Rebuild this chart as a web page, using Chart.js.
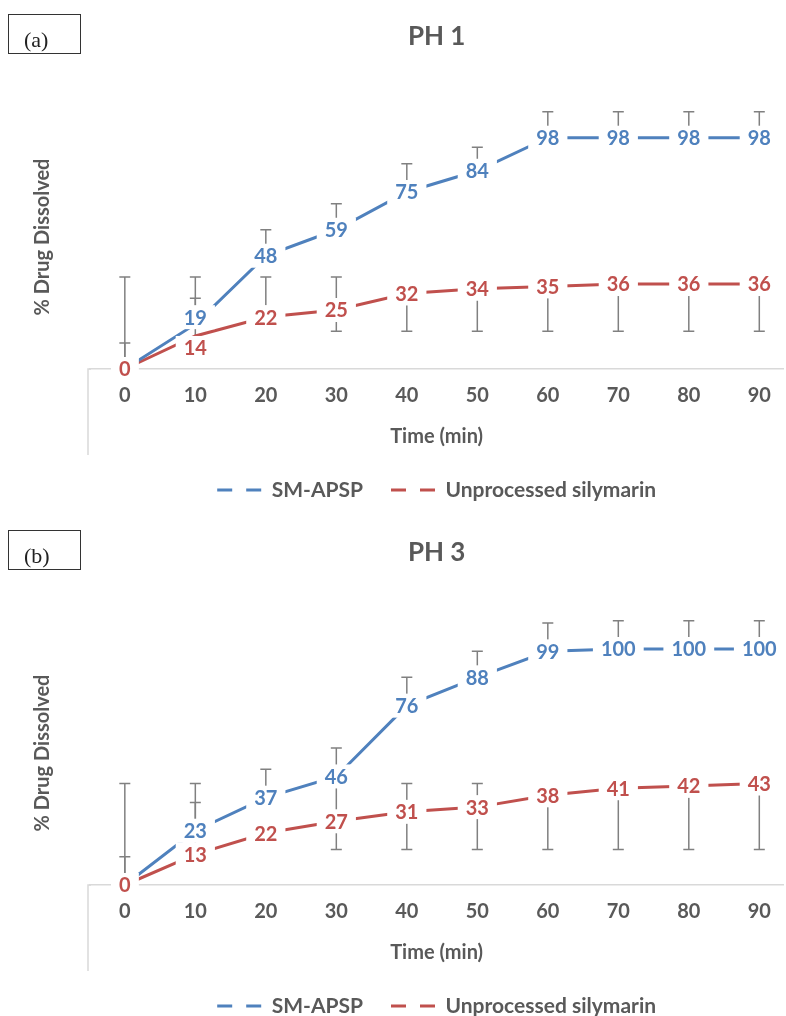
<!DOCTYPE html>
<html>
<head>
<meta charset="utf-8">
<script src="https://cdn.jsdelivr.net/npm/chart.js@4.4.1/dist/chart.umd.min.js"></script>
<style>
  html, body { margin: 0; padding: 0; background: #fff; }
  body { width: 786px; height: 1016px; overflow: hidden; position: relative; }
  .panel { position: absolute; left: 0; width: 786px; height: 540px; }
  .panel canvas { position: absolute; left: 0; top: 0; }
  .tag {
    position: absolute; left: 8px; top: 14px; width: 73px; height: 40px;
    box-sizing: border-box; border: 1.5px solid #333;
  }
  .tag span {
    position: absolute; left: 15px; top: 13px;
    font-family: "Liberation Serif", serif; font-size: 22px; line-height: 24px; color: #222;
  }
</style>
</head>
<body>
<div class="panel" style="top:0"><canvas id="ph1" width="786" height="540"></canvas><div class="tag"><span>(a)</span></div></div>
<div class="panel" style="top:516px"><canvas id="ph3" width="786" height="540"></canvas><div class="tag"><span>(b)</span></div></div>

<script>
// data
const timeLabels = [0, 10, 20, 30, 40, 50, 60, 70, 80, 90];
const seriesNames = ["SM-APSP", "Unprocessed silymarin"];

const ph1Apsp = [0, 19, 48, 59, 75, 84, 98, 98, 98, 98];
const ph1Raw = [0, 14, 22, 25, 32, 34, 35, 36, 36, 36];
const ph1ApspErrPlus = [11, 11, 11, 11, 12, 10, 11, 11, 11, 11];
const ph1RawErrPlus = [39, 25, 17, 14, 0, 0, 0, 0, 0, 0];
const ph1RawErrMinus = [0, 0, 0, 9, 16, 18, 19, 20, 20, 20];

const ph3Apsp = [0, 23, 37, 46, 76, 88, 99, 100, 100, 100];
const ph3Raw = [0, 13, 22, 27, 31, 33, 38, 41, 42, 43];
const ph3ApspErrPlus = [12, 12, 12, 12, 12, 11, 12, 12, 12, 12];
const ph3RawErrPlus = [43, 30, 0, 16, 12, 10, 0, 0, 0, 0];
const ph3RawErrMinus = [0, 0, 0, 12, 16, 18, 23, 26, 27, 28];

const GRAY = "#595959";
const BLUE = "#4F81BD";
const RED = "#C0504D";

Chart.defaults.font.family = "Lato";

// gray whiskers, drawn under the lines
const errorBars = {
  id: "errorBars",
  beforeDatasetsDraw(chart, args, opts) {
    const { ctx, scales: { x, y } } = chart;
    ctx.save();
    ctx.strokeStyle = "#808080";
    ctx.lineWidth = 1.5;
    opts.bars.forEach(bar => {
      chart.data.datasets[bar.dataset].data.forEach((pt, i) => {
        const px = x.getPixelForValue(pt.x);
        const base = y.getPixelForValue(pt.y);
        [[bar.plus[i], 1], [bar.minus[i], -1]].forEach(([err, dir]) => {
          if (!err) return;
          const end = y.getPixelForValue(pt.y + dir * err);
          ctx.beginPath();
          ctx.moveTo(px, base);
          ctx.lineTo(px, end);
          ctx.moveTo(px - 5.5, end);
          ctx.lineTo(px + 5.5, end);
          ctx.stroke();
        });
      });
    });
    ctx.restore();
  }
};

// value labels on a white box, like excel's filled data labels
const pointLabels = {
  id: "pointLabels",
  afterDatasetsDraw(chart, args, opts) {
    const { ctx } = chart;
    ctx.save();
    ctx.font = "bold 20px Lato";
    ctx.textAlign = "center";
    ctx.textBaseline = "middle";
    chart.data.datasets.forEach((ds, di) => {
      chart.getDatasetMeta(di).data.forEach((el, i) => {
        const text = String(ds.data[i].y);
        const shift = ((opts.shift || {})[di] || {})[i] || 0;
        const w = ctx.measureText(text).width + 16;
        const cy = el.y + shift;
        ctx.fillStyle = "#fff";
        ctx.fillRect(el.x - w / 2, cy - 12, w, 24);
        ctx.fillStyle = ds.borderColor;
        ctx.fillText(text, el.x, cy + 1);
      });
    });
    ctx.restore();
  }
};

// left frame stub and the rotated y title
const frameAndTitle = {
  id: "frameAndTitle",
  afterDraw(chart, args, opts) {
    const { ctx, chartArea } = chart;
    ctx.save();
    ctx.strokeStyle = "#d9d9d9";
    ctx.lineWidth = 1.5;
    ctx.beginPath();
    ctx.moveTo(chartArea.left + 1, chartArea.bottom);
    ctx.lineTo(chartArea.left - 2, chartArea.bottom);
    ctx.lineTo(chartArea.left - 2, chartArea.bottom + 86);
    ctx.stroke();
    ctx.translate(43, 237);
    ctx.rotate(-Math.PI / 2);
    ctx.font = "bold 20px Lato";
    ctx.fillStyle = GRAY;
    ctx.textAlign = "center";
    ctx.textBaseline = "middle";
    ctx.fillText(opts.text, 0, 0);
    ctx.restore();
  }
};

function makeChart(id, title, apsp, raw, apspPlus, rawPlus, rawMinus, shift) {
  const toPoints = vals => vals.map((v, i) => ({ x: timeLabels[i], y: v }));
  const line = (label, vals, color) => ({
    label: label,
    data: toPoints(vals),
    borderColor: color,
    backgroundColor: color,
    borderWidth: 3,
    pointRadius: 0,
    tension: 0,
    clip: false
  });

  return new Chart(document.getElementById(id), {
    type: "line",
    data: {
      datasets: [
        line(seriesNames[0], apsp, BLUE),
        line(seriesNames[1], raw, RED)
      ]
    },
    options: {
      responsive: false,
      animation: false,
      devicePixelRatio: 1,
      layout: { padding: { left: 90, right: 0, top: 0, bottom: 29.5 } },
      scales: {
        x: {
          type: "linear",
          min: -4.94,
          max: 93.4,
          afterBuildTicks: scale => { scale.ticks = timeLabels.map(v => ({ value: v })); },
          ticks: {
            autoSkip: false, maxRotation: 0, padding: 15,
            color: GRAY, font: { size: 20, weight: "bold" },
            callback: v => v
          },
          grid: { display: false, drawTicks: false },
          border: { color: "#d9d9d9", width: 1.5 },
          title: {
            display: true, text: "Time (min)", color: GRAY,
            font: { size: 20, weight: "bold" },
            padding: { top: 2, bottom: 2.5 }
          }
        },
        y: { display: false, min: 0, max: 130 }
      },
      plugins: {
        title: {
          display: true, text: title, fullSize: false, color: GRAY,
          font: { size: 26, weight: "bold" },
          padding: { top: 21, bottom: 10 }
        },
        legend: {
          position: "bottom",
          fullSize: false,
          labels: {
            usePointStyle: true,
            pointStyleWidth: 44,
            padding: 28,
            color: GRAY,
            font: { size: 21, weight: "bold" },
            generateLabels: chart => chart.data.datasets.map((ds, i) => ({
              text: ds.label,
              strokeStyle: ds.borderColor,
              fillStyle: ds.borderColor,
              lineWidth: 3,
              lineDash: [15, 14],
              pointStyle: "line",
              fontColor: GRAY,
              hidden: false,
              datasetIndex: i
            }))
          }
        },
        tooltip: { enabled: false },
        errorBars: {
          bars: [
            { dataset: 0, plus: apspPlus, minus: timeLabels.map(() => 0) },
            { dataset: 1, plus: rawPlus, minus: rawMinus }
          ]
        },
        pointLabels: { shift: shift },
        frameAndTitle: { text: "% Drug Dissolved" }
      }
    },
    plugins: [errorBars, pointLabels, frameAndTitle]
  });
}

makeChart("ph1", "PH 1", ph1Apsp, ph1Raw, ph1ApspErrPlus, ph1RawErrPlus, ph1RawErrMinus,
  { 0: { 1: -7 }, 1: { 1: 12 } });
makeChart("ph3", "PH 3", ph3Apsp, ph3Raw, ph3ApspErrPlus, ph3RawErrPlus, ph3RawErrMinus, {});
</script>
</body>
</html>
